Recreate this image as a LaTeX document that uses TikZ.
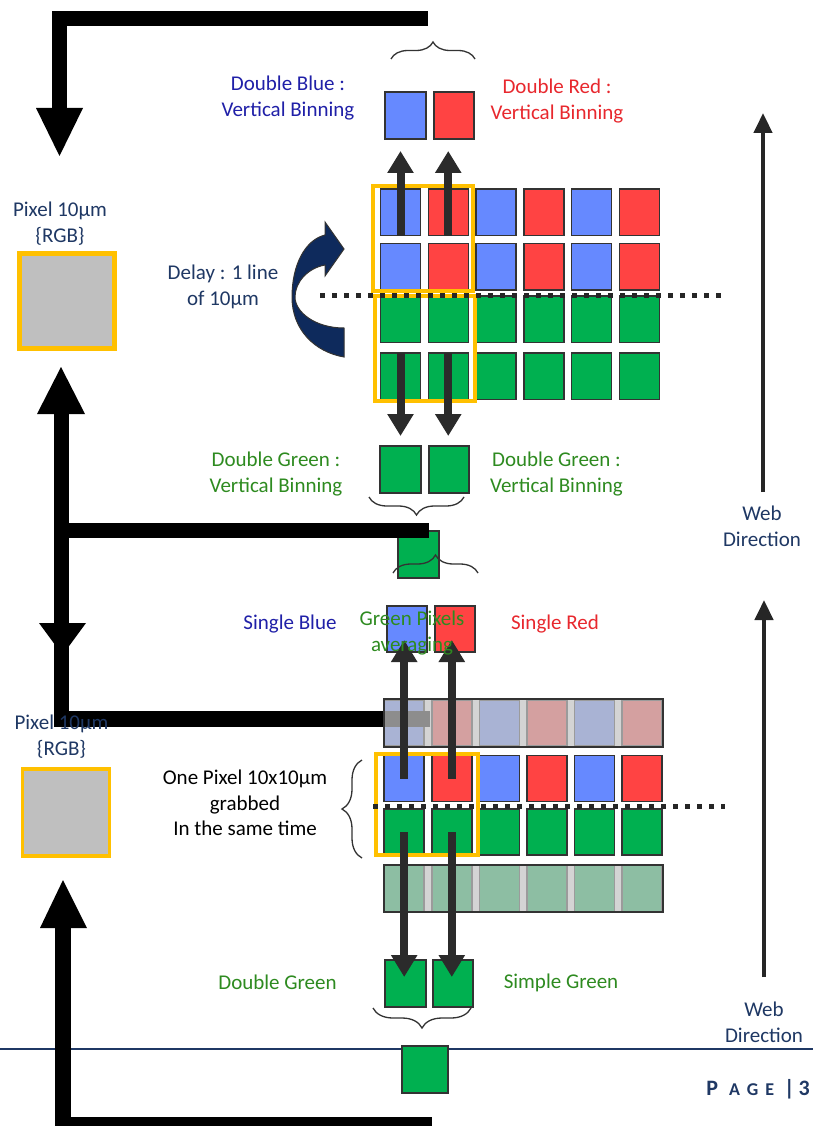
\documentclass[tikz,border=0pt]{standalone}
\usepackage{fontspec}
\setmainfont{Carlito}
\usetikzlibrary{arrows.meta,decorations.pathreplacing,calc}
\definecolor{pxblue}{HTML}{6689FF}
\definecolor{pxred}{HTML}{FF4343}
\definecolor{pxgreen}{HTML}{00B050}
\definecolor{pxborder}{HTML}{333333}
\definecolor{gold}{HTML}{FFC000}
\definecolor{navy}{HTML}{1F3864}
\definecolor{navyfill}{HTML}{0E2A5C}
\definecolor{tblue}{HTML}{2020A8}
\definecolor{tred}{HTML}{E8282E}
\definecolor{tgreen}{HTML}{2E8B20}
\definecolor{arrowgray}{HTML}{2B2B2B}
\definecolor{pixgray}{HTML}{BFBFBF}
\definecolor{veil}{HTML}{C4C4C4}
\tikzset{
 cell/.style={draw=pxborder, line width=1.5pt, minimum width=40pt, minimum height=46.5pt, inner sep=0pt, outer sep=0pt},
 goldbox/.style={draw=gold, line width=4pt},
 pixbox/.style={draw=gold, fill=pixgray, inner sep=0pt, outer sep=0pt},
 bigarrow/.style={draw=arrowgray, line width=8pt, -{Triangle[width=25pt,length=22pt]}},
 webarrow/.style={draw=black!85, line width=4.5pt, -{Triangle[width=18pt,length=20pt]}},
 dotline/.style={draw=black!85, line width=5pt, dash pattern=on 5pt off 7pt},
 bracedeco/.style={draw=pxborder, line width=1.3pt, decorate, decoration={brace, amplitude=#1}},
 lbl/.style={font=\fontsize{21}{26}\selectfont, align=center, inner sep=0pt},
}
\begin{document}
\begin{tikzpicture}[x=1pt,y=-1pt]
\useasboundingbox (0,0) rectangle (813,1126);
\fill[white] (0,0) rectangle (813,1126);

% footer rule
\draw[navy, line width=2.5pt] (0,1049) -- (813,1049);

% ---------- top grid ----------
\foreach \c/\col in {0/pxblue,1/pxred,2/pxblue,3/pxred,4/pxblue,5/pxred} {
  \node[cell, fill=\col] (ta\c) at ({400.5+47.75*\c}, 212.4) {};
  \node[cell, fill=\col] (tb\c) at ({400.5+47.75*\c}, 266.7) {};
  \node[cell, fill=pxgreen] (tc\c) at ({400.5+47.75*\c}, 319.4) {};
  \node[cell, fill=pxgreen] (td\c) at ({400.5+47.75*\c}, 376.4) {};
}
\draw[goldbox] (373,186) rectangle (473,291);
\draw[goldbox] (374.5,295.5) rectangle (475,401);
\draw[dotline] (320,295.3) -- (722,295.3);

% output squares top
\node[cell, fill=pxblue, minimum width=41pt, minimum height=47pt] (dB) at (405.5,115.5) {};
\node[cell, fill=pxred, minimum width=40pt, minimum height=47pt] (dR) at (454,115.5) {};
\node[cell, fill=pxgreen, minimum width=41pt, minimum height=47pt] (dG1) at (400.5,469.5) {};
\node[cell, fill=pxgreen, minimum width=40pt, minimum height=47pt] (dG2) at (449,469.5) {};
\node[cell, fill=pxgreen, minimum width=41pt, minimum height=47pt] (sG) at (418.5,554.5) {};

\draw[bigarrow] (ta0.south) -- ($(ta0.south |- dB.south)+(0,12)$);
\draw[bigarrow] (ta1.south) -- ($(ta1.south |- dR.south)+(0,12)$);
\draw[bigarrow] (td0.north) -- ($(td0.north |- dG1.north)+(0,-10)$);
\draw[bigarrow] (td1.north) -- ($(td1.north |- dG2.north)+(0,-10)$);

% braces top part
\draw[bracedeco=17] (391,59) -- (475,59);
\draw[bracedeco=18] (464,497) -- (369,497);

% curved delay arrow
\filldraw[fill=navyfill, draw=pxborder, line width=1pt]
  (344,357) .. controls (315,352) and (292,330) .. (292,297)
  .. controls (292,265) and (305,240) .. (325,235)
  -- (325,222) -- (344,249) -- (325,276) -- (325,265)
  .. controls (308,268) and (295,282) .. (295,297)
  .. controls (295,312) and (315,328) .. (344,328) -- cycle;

% ---------- lower grid ----------
\foreach \c/\col/\gcol in {0/pxblue/pxgreen,1/pxred/pxgreen,2/pxblue/pxgreen,3/pxred/pxgreen,4/pxblue/pxgreen,5/pxred/pxgreen} {
  \node[cell, fill=\col, minimum height=46pt] (ga\c) at ({404.2+47.6*\c}, 723) {};
  \node[cell, fill=\col, minimum height=46pt] (la\c) at ({404.2+47.6*\c}, 778.7) {};
  \node[cell, fill=\gcol, minimum height=46pt] (lb\c) at ({404.2+47.6*\c}, 832) {};
  \node[cell, fill=\gcol, minimum height=46pt] (gb\c) at ({404.2+47.6*\c}, 888.5) {};
}

% black L arrows (left)
\fill (52,11) rectangle (428,26);
\fill (52,11) rectangle (67,108);
\fill (36,108) -- (83,108) -- (59.5,156) -- cycle;

\fill (54,414) rectangle (69,727);
\fill (37,414) -- (85,414) -- (61,367) -- cycle;
\fill (54,523) rectangle (429,538);
\fill (39,623) -- (86,623) -- (62.5,655) -- cycle;
\fill (54,711) rectangle (430,727);

\fill (55,928) rectangle (71,1126);
\fill (55,1117) rectangle (432,1126);
\fill (40,928) -- (87,928) -- (63,880) -- cycle;

% veils over the neighbouring lines
\fill[veil, opacity=0.72] (384,699) rectangle (663,747);
\draw[pxborder, line width=1.5pt] (384,699) rectangle (663,747);
\fill[veil, opacity=0.72] (384,865) rectangle (663,912);
\draw[pxborder, line width=1.5pt] (384,865) rectangle (663,912);

\draw[goldbox] (376,754) rectangle (477.5,854.5);
\draw[dotline] (373,806) -- (725,806);

% output squares lower
\node[cell, fill=pxblue, minimum width=40pt, minimum height=46pt] (sB) at (407,629) {};
\node[cell, fill=pxred, minimum width=40pt, minimum height=46pt] (sR) at (455,629) {};
\node[cell, fill=pxgreen, minimum width=41pt, minimum height=47pt] (bG1) at (405.5,983.5) {};
\node[cell, fill=pxgreen, minimum width=40pt, minimum height=47pt] (bG2) at (453,983.5) {};
\node[cell, fill=pxgreen, minimum width=46pt, minimum height=47pt] (bG) at (425,1069.5) {};

\draw[bigarrow] (la0.center) -- ($(la0.center |- sB.south)+(0,-12)$);
\draw[bigarrow] (la1.center) -- ($(la1.center |- sR.south)+(0,-12)$);
\draw[bigarrow] (lb0.center) -- ($(lb0.center |- bG1.north)+(0,17)$);
\draw[bigarrow] (lb1.center) -- ($(lb1.center |- bG2.north)+(0,17)$);

% braces lower part
\draw[bracedeco=18] (393,573) -- (478,573);
\draw[bracedeco=20] (362,858) -- (362,760);
\draw[bracedeco=20] (471,1008) -- (373,1008);

% pixel boxes
\node[pixbox, line width=5pt, minimum size=95pt] (pix1) at (67,301) {};
\node[pixbox, line width=3.5pt, minimum size=87pt] (pix2) at (66,812.5) {};

% web direction arrows
\coordinate (w1s) at (763,492);
\coordinate (w1e) at (763,113);
\coordinate (w2s) at (764,977);
\coordinate (w2e) at (764,600);
\draw[webarrow] (w1s) -- (w1e);
\draw[webarrow] (w2s) -- (w2e);

% ---------- labels ----------
\node[lbl, text=tblue] at (288,98) {Double Blue :\\Vertical Binning};
\node[lbl, text=tred] at (557,101.5) {Double Red :\\Vertical Binning};
\node[lbl, text=navy] at (60,223.5) {Pixel 10µm\\\{RGB\}};
\node[lbl, text=navy] at (223,287) {Delay : 1 line\\of 10µm};
\node[lbl, text=tgreen] at (276,474.5) {Double Green :\\Vertical Binning};
\node[lbl, text=tgreen] at (556.5,474.5) {Double Green :\\Vertical Binning};
\node[lbl, text=navy] at (762,526.5) {Web\\Direction};
\node[lbl, text=tblue] at (290,624) {Single Blue};
\node[lbl, text=tred] at (555,624) {Single Red};
\node[lbl, text=tgreen] at (412,633.5) {Green Pixels\\averaging};
\node[lbl, text=navy] at (61.5,736.5) {Pixel 10µm\\\{RGB\}};
\node[lbl, text=black, font=\fontsize{21}{25.5}\selectfont] at (245,803) {One Pixel 10x10µm\\grabbed\\In the same time};
\node[lbl, text=tgreen] at (277.5,982.5) {Double Green};
\node[lbl, text=tgreen] at (561,982.5) {Simple Green};
\node[lbl, text=navy] at (764,1022) {Web\\Direction};
\node[inner sep=0pt, anchor=east, text=navy, font=\bfseries] at (810,1089)
  {{\fontsize{22}{22}\selectfont P}\hspace{11pt}{\fontsize{18}{18}\selectfont A\hspace{7pt}G\hspace{7pt}E}\hspace{10pt}{\fontsize{22}{22}\selectfont |\hspace{4pt}3}};
\end{tikzpicture}
\end{document}
